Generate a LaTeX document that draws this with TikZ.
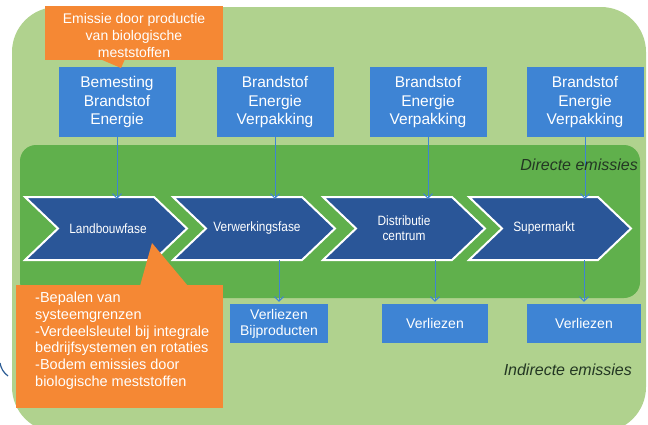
\documentclass[tikz,border=0pt]{standalone}
\usepackage{fontspec}
\setmainfont{Liberation Sans}
\newfontfamily\narrowfont[FakeStretch=0.88]{Liberation Sans}
\usetikzlibrary{arrows.meta}
\definecolor{lightgreen}{RGB}{176,210,142}
\definecolor{darkgreen}{RGB}{96,176,76}
\definecolor{boxblue}{RGB}{62,132,212}
\definecolor{chevblue}{RGB}{42,86,152}
\definecolor{orangec}{RGB}{245,136,52}
\definecolor{labeltext}{RGB}{35,55,35}
\begin{document}
\begin{tikzpicture}[x=1pt,y=-1pt,
  topbox/.style={fill=boxblue, text=white, minimum width=117pt, minimum height=70pt, inner sep=0pt, align=center, font=\fontsize{15.5}{18.5}\selectfont},
  botbox/.style={fill=boxblue, text=white, minimum height=39pt, inner sep=0pt, align=center, font=\fontsize{14}{16}\selectfont},
  chevron/.style={fill=chevblue, draw=white, line width=2pt, line join=miter},
  chevtext/.style={text=white, align=center, minimum height=63pt, inner sep=0pt, font=\narrowfont\fontsize{13.5}{15}\selectfont},
  link/.style={draw=boxblue, line width=1pt, -{Straight Barb[length=4.5pt,width=9pt]}},
  callout/.style={fill=orangec},
  calltext/.style={text=white, inner sep=0pt, font=\fontsize{14.5}{16.7}\selectfont},
  zone/.style={text=labeltext, inner sep=0pt, font=\itshape\fontsize{16}{18}\selectfont}
]
\useasboundingbox (0,0) rectangle (648,424);
% backgrounds
\fill[lightgreen, rounded corners=45pt] (12,7) rectangle (646,432);
\fill[darkgreen, rounded corners=16pt] (20,145) rectangle (640,298);
\draw[boxblue!70!black, line width=1.2pt] (0,363) to[bend right=20] (8,376);
% chevrons
\foreach \x in {25,173,323,469}{
  \path[chevron] (\x,197) -- ({\x+129},197) -- ({\x+162},228.5) -- ({\x+129},260) -- (\x,260) -- ({\x+33},228.5) -- cycle;
}
\node[chevtext] (ch1) at (108,228.5) {Landbouwfase};
\node[chevtext] (ch2) at (257,228.5) {Verwerkingsfase};
\node[chevtext] (ch3) at (404,228.5) {Distributie\\centrum};
\node[chevtext] (ch4) at (544,228.5) {Supermarkt};
% top boxes
\node[topbox] (t1) at (117,102) {Bemesting\\Brandstof\\Energie};
\node[topbox] (t2) at (275,102) {Brandstof\\Energie\\Verpakking};
\node[topbox] (t3) at (428,102) {Brandstof\\Energie\\Verpakking};
\node[topbox] (t4) at (585,102) {Brandstof\\Energie\\Verpakking};
% bottom boxes
\node[botbox, minimum width=98pt] (v1) at (279,323.5) {Verliezen\\Bijproducten};
\node[botbox, minimum width=106pt] (v2) at (435,323.5) {Verliezen};
\node[botbox, minimum width=114pt] (v3) at (584,323.5) {Verliezen};
% connectors
\draw[link] (t1.south) -- ([yshift=-2pt]t1.south |- ch1.north);
\draw[link] (t2.south) -- ([yshift=-2pt]t2.south |- ch2.north);
\draw[link] (t3.south) -- ([yshift=-2pt]t3.south |- ch3.north);
\draw[link] (t4.south) -- ([yshift=-2pt]t4.south |- ch4.north);
\draw[link] (v1.north |- ch2.south) -- ([yshift=2pt]v1.north);
\draw[link] (v2.north |- ch3.south) -- ([yshift=2pt]v2.north);
\draw[link] (v3.north |- ch4.south) -- ([yshift=2pt]v3.north);
% top callout
\fill[callout] (45,6) rectangle (223,60);
\fill[callout] (100,59) -- (125,59) -- (121,68) -- cycle;
\node[calltext, align=center, font=\fontsize{14}{17}\selectfont] (co1) at (134,35) {Emissie door productie\\van biologische\\meststoffen};
% bottom callout
\fill[callout] (16,285) rectangle (223,408);
\fill[callout] (140,286) -- (152,243) -- (188,286) -- cycle;
\node[calltext, align=left, anchor=north west] (co2) at (35,292) {-Bepalen van\\systeemgrenzen\\-Verdeelsleutel bij integrale\\bedrijfsystemen en rotaties\\-Bodem emissies door\\biologische meststoffen};
% zone labels
\node[zone, anchor=east] (dz) at (638,165) {Directe emissies};
\node[zone, anchor=east] (iz) at (632,370) {Indirecte emissies};
\end{tikzpicture}
\end{document}
